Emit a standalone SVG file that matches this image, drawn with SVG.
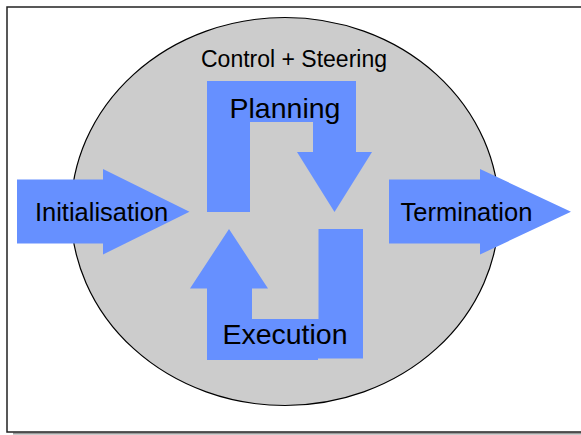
<svg xmlns="http://www.w3.org/2000/svg" width="581" height="435" viewBox="0 0 581 435">
  <style>
    .frame { fill: #ffffff; stroke: #222222; stroke-width: 1.5; }
    .shadow { fill: none; stroke: #9a9a9a; stroke-width: 2; }
    .zone { fill: #cccccc; stroke: #000000; stroke-width: 1.2; }
    .flow { fill: #6690ff; stroke: none; }
    .label { font-family: "Liberation Sans", Arial, sans-serif; fill: #000000; text-anchor: middle; }
  </style>

  <!-- page frame with drop shadow -->
  <path class="shadow" d="M13 433.5 H600"/>
  <rect class="frame" x="7" y="7" width="600" height="425"/>

  <!-- control + steering area -->
  <g id="control-steering">
    <ellipse class="zone" cx="285" cy="211.5" rx="214" ry="194"/>
    <text class="label" x="294" y="66.5" font-size="23">Control + Steering</text>
  </g>

  <g id="flow">
    <g id="initialisation">
      <polygon class="flow" points="17,179.5 103,179.5 103,169 189.5,211.7 103,254.5 103,243.5 17,243.5"/>
      <text class="label" x="101.5" y="221" font-size="25.5">Initialisation</text>
    </g>

    <g id="planning">
      <polygon class="flow" points="207,81 356,81 356,152 372,152 334.5,212 297,152 313,152 313,122 250,122 250,212 207,212"/>
      <text class="label" x="285" y="118" font-size="28.5">Planning</text>
    </g>

    <g id="execution">
      <polygon class="flow" points="229,229 268,288.5 252,288.5 252,319 318.5,319 318.5,229 363,229 363,358.5 318,358.5 318,360 207,360 207,288.5 190,288.5"/>
      <text class="label" x="285" y="343.5" font-size="28.5">Execution</text>
    </g>

    <g id="termination">
      <polygon class="flow" points="389,179.5 480,179.5 480,169 571,211.7 480,254.5 480,243.5 389,243.5"/>
      <text class="label" x="466.5" y="221" font-size="25.5">Termination</text>
    </g>
  </g>
</svg>
